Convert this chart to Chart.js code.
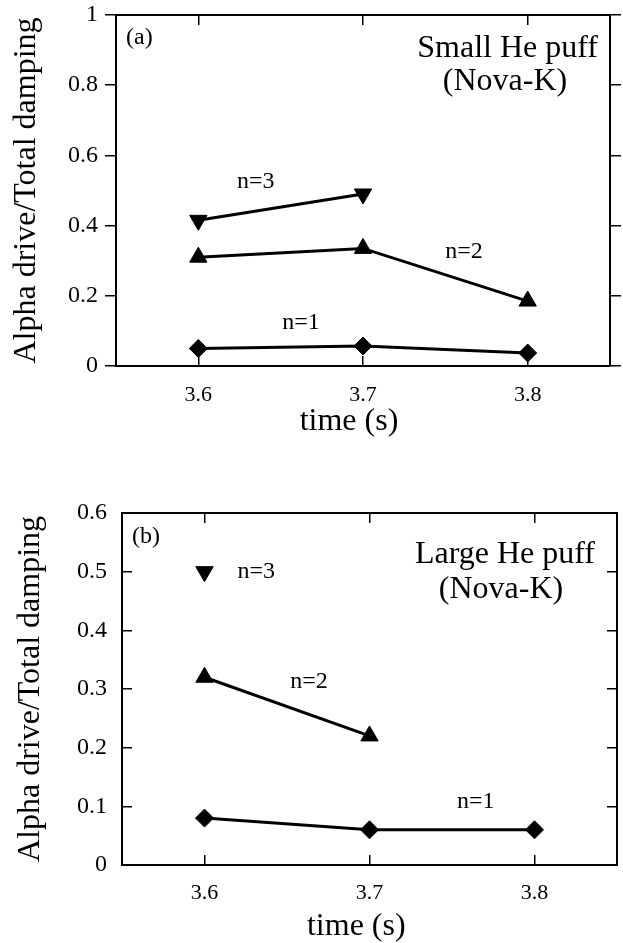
<!DOCTYPE html>
<html>
<head>
<meta charset="utf-8">
<script src="https://cdn.jsdelivr.net/npm/chart.js@4.4.1/dist/chart.umd.min.js"></script>
<style>
  body { margin: 0; background: #fff; }
  canvas { display: block; }
</style>
</head>
<body>
<canvas id="chartA" width="623" height="460"></canvas>
<canvas id="chartB" width="623" height="483"></canvas>
<script>
// time points (s) and their tick labels
var times = [3.6, 3.7, 3.8]
var timeTicks = ['3.6', '3.7', '3.8']

// y tick labels of the two panels
var smallTicks = ['0', '0.2', '0.4', '0.6', '0.8', '1']
var largeTicks = ['0', '0.1', '0.2', '0.3', '0.4', '0.5', '0.6']

// (a) small He puff, alpha drive / total damping per toroidal mode
var smallN1 = [0.05, 0.057, 0.037]
var smallN2 = [0.31, 0.335, 0.185]
var smallN3 = [0.415, 0.49, null]

// (b) large He puff
var largeN1 = [0.08, 0.06, 0.06]
var largeN2 = [0.32, 0.22, null]
var largeN3 = [0.5, null, null]

var serif = '"Liberation Serif", "Times New Roman", serif'

function points(values) {
  var pts = []
  for (var i = 0; i < times.length; i++) {
    if (values[i] !== null) pts.push({ x: times[i], y: values[i] })
  }
  return pts
}

function series(label, values, style, rotation, radius) {
  return {
    label: label,
    data: points(values),
    borderColor: '#000',
    backgroundColor: '#000',
    borderWidth: 3,
    pointStyle: style,
    rotation: rotation,
    pointRadius: radius,
    pointBorderWidth: 1,
    pointBackgroundColor: '#000',
    pointBorderColor: '#000',
    tension: 0,
    clip: false
  }
}

function setTimeTicks(scale) {
  scale.ticks = times.map(function (t) { return { value: t } })
}

// fixed axis box sizes, and no extra room for overhanging labels
function fixHeight(h) {
  return function (s) { s.height = h; s.paddingLeft = 0; s.paddingRight = 0 }
}
function fixWidth(w) {
  return function (s) { s.width = w; s.paddingTop = 0; s.paddingBottom = 0 }
}

// text written on the chart: corner notes, n= labels and the time axis title
var textPlugin = {
  id: 'plotText',
  afterDraw: function (chart, args, opts) {
    var ctx = chart.ctx
    var area = chart.chartArea
    var xs = chart.scales.x
    var ys = chart.scales.y
    ctx.save()
    ctx.fillStyle = '#000'
    ctx.textBaseline = 'alphabetic'
    opts.items.forEach(function (it) {
      ctx.font = it.size + 'px ' + serif
      ctx.textAlign = it.align || 'left'
      var px, py
      if (it.below !== undefined) {
        px = xs.getPixelForValue(it.x)
        py = area.bottom + it.below
      } else if (it.x !== undefined) {
        px = xs.getPixelForValue(it.x)
        py = ys.getPixelForValue(it.y)
      } else {
        px = it.fromRight !== undefined ? area.right - it.fromRight : area.left + it.fromLeft
        py = area.top + it.fromTop
      }
      ctx.fillText(it.text, px, py)
    })
    ctx.restore()
  }
}

function makeChart(id, p) {
  var axisColor = '#000'
  var grid = function (len) {
    return { drawOnChartArea: false, drawTicks: true, tickLength: len, color: axisColor, lineWidth: 1.5 }
  }
  var border = { display: true, color: axisColor, width: 2 }

  return new Chart(document.getElementById(id).getContext('2d'), {
    type: 'line',
    data: { datasets: p.datasets },
    options: {
      responsive: false,
      animation: false,
      devicePixelRatio: 1,
      layout: { padding: p.padding, autoPadding: false },
      scales: {
        x: {
          type: 'linear',
          position: 'bottom',
          min: 3.55,
          max: 3.85,
          afterBuildTicks: setTimeTicks,
          ticks: {
            callback: function (v, i) { return timeTicks[i] },
            color: axisColor,
            font: { family: serif, size: 22 },
            padding: p.xPad,
            maxRotation: 0
          },
          grid: grid(-10),
          border: border,
          afterFit: fixHeight(p.xHeight)
        },
        x2: {
          type: 'linear',
          position: 'top',
          min: 3.55,
          max: 3.85,
          afterBuildTicks: setTimeTicks,
          ticks: { display: false },
          grid: grid(-10),
          border: border,
          afterFit: fixHeight(0)
        },
        y: {
          type: 'linear',
          position: 'left',
          min: 0,
          max: p.yMax,
          ticks: {
            stepSize: p.yStep,
            callback: function (v, i) { return p.yLabels[i] },
            color: axisColor,
            font: { family: serif, size: 24 },
            padding: p.yPad
          },
          grid: grid(p.yTick),
          border: border,
          title: {
            display: true,
            text: 'Alpha drive/Total damping',
            color: axisColor,
            font: { family: serif, size: 32 },
            padding: { top: p.yTitlePad, bottom: 0 }
          },
          afterFit: fixWidth(p.yWidth)
        },
        y2: {
          type: 'linear',
          position: 'right',
          min: 0,
          max: p.yMax,
          ticks: { display: false, stepSize: p.yStep },
          grid: grid(p.yTick),
          border: border,
          afterFit: fixWidth(0)
        }
      },
      plugins: {
        legend: { display: false },
        tooltip: { enabled: false },
        plotText: { items: p.notes }
      }
    },
    plugins: [textPlugin]
  })
}

makeChart('chartA', {
  datasets: [
    series('n=1', smallN1, 'rectRot', 0, 9),
    series('n=2', smallN2, 'triangle', 0, 10),
    series('n=3', smallN3, 'triangle', 180, 10)
  ],
  padding: { top: 15, right: 13, left: 0, bottom: 0 },
  yMax: 1,
  yStep: 0.2,
  yLabels: smallTicks,
  yTick: 11,
  yWidth: 116,
  yPad: 7,
  yTitlePad: 7,
  xHeight: 94,
  xPad: 26,
  notes: [
    { text: '(a)', size: 24, fromLeft: 10, fromTop: 29 },
    { text: 'Small He puff', size: 32, align: 'right', fromRight: 12, fromTop: 42 },
    { text: '(Nova-K)', size: 32, align: 'center', fromRight: 105, fromTop: 75 },
    { text: 'n=3', size: 24, x: 3.6235, y: 0.506 },
    { text: 'n=2', size: 24, x: 3.75, y: 0.309 },
    { text: 'n=1', size: 24, x: 3.651, y: 0.106 },
    { text: 'time (s)', size: 32, align: 'center', x: 3.6915, below: 64 }
  ]
})

makeChart('chartB', {
  datasets: [
    series('n=1', largeN1, 'rectRot', 0, 9),
    series('n=2', largeN2, 'triangle', 0, 10),
    series('n=3', largeN3, 'triangle', 180, 10)
  ],
  padding: { top: 53, right: 6, left: 0, bottom: 0 },
  yMax: 0.6,
  yStep: 0.1,
  yLabels: largeTicks,
  yTick: -10,
  yWidth: 122,
  yPad: 25,
  yTitlePad: 11,
  xHeight: 78,
  xPad: 25,
  notes: [
    { text: '(b)', size: 24, fromLeft: 10, fromTop: 30 },
    { text: 'Large He puff', size: 32, align: 'right', fromRight: 22, fromTop: 50 },
    { text: '(Nova-K)', size: 32, align: 'center', fromRight: 116, fromTop: 85 },
    { text: 'n=3', size: 24, x: 3.62, y: 0.489 },
    { text: 'n=2', size: 24, x: 3.652, y: 0.302 },
    { text: 'n=1', size: 24, x: 3.753, y: 0.097 },
    { text: 'time (s)', size: 32, align: 'center', x: 3.692, below: 70 }
  ]
})
</script>
</body>
</html>
